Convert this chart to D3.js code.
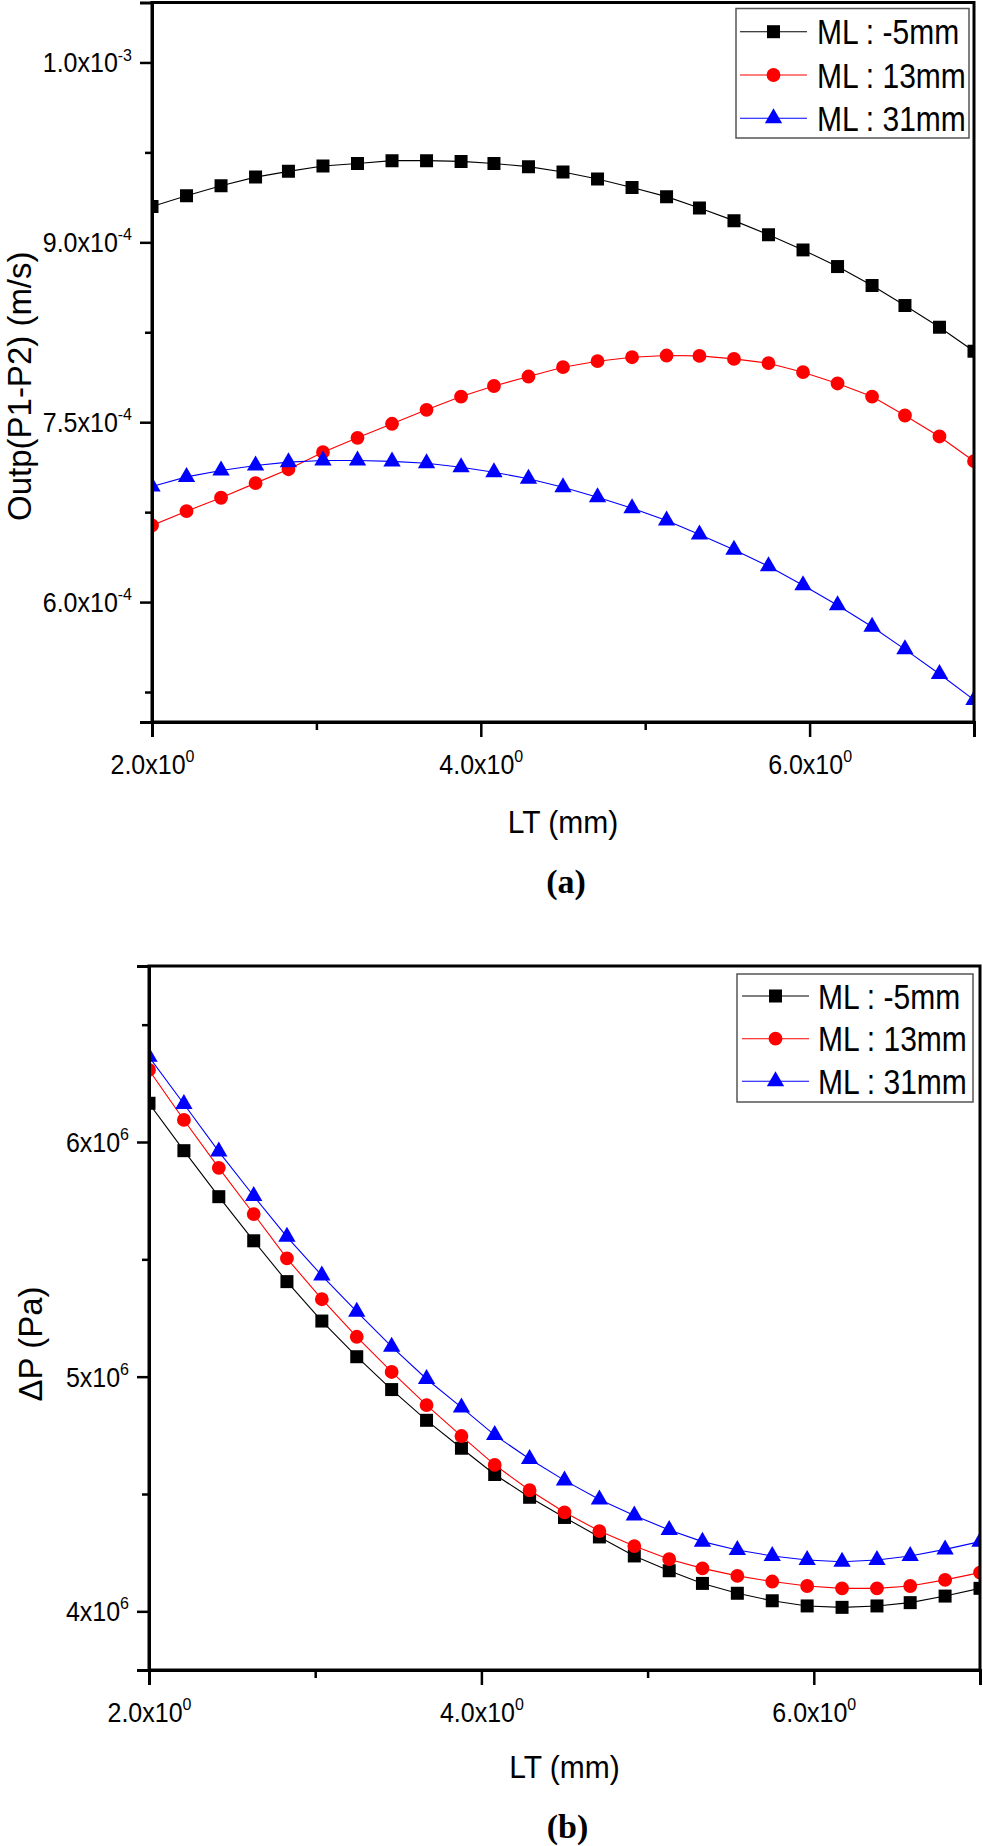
<!DOCTYPE html>
<html>
<head>
<meta charset="utf-8">
<script src="https://cdn.jsdelivr.net/npm/d3@7"></script>
<style>
  html, body { margin: 0; padding: 0; background: #fff; }
  svg { display: block; }
  text { font-family: "Liberation Sans", Arial, sans-serif; fill: #000; }
</style>
</head>
<body>
<svg id="chart" width="983" height="1846"></svg>
<script>
// ---------------- data ----------------
const seriesNames = ["ML : -5mm", "ML : 13mm", "ML : 31mm"];
const seriesColors = ["#000000", "#ff0000", "#0000ff"];
const seriesSymbols = ["square", "circle", "triangle"];

const LT = [2.00, 2.21, 2.42, 2.63, 2.83, 3.04, 3.25, 3.46, 3.67, 3.88, 4.08, 4.29, 4.50,
            4.71, 4.92, 5.13, 5.33, 5.54, 5.75, 5.96, 6.17, 6.38, 6.58, 6.79, 7.00];

// (a) Outp(P1-P2) (m/s)
const outpML_m5 = [9.298e-4, 9.389e-4, 9.472e-4, 9.544e-4, 9.592e-4, 9.637e-4, 9.658e-4, 9.681e-4, 9.681e-4,
                   9.675e-4, 9.658e-4, 9.631e-4, 9.587e-4, 9.528e-4, 9.458e-4, 9.381e-4, 9.287e-4, 9.181e-4,
                   9.064e-4, 8.937e-4, 8.798e-4, 8.640e-4, 8.473e-4, 8.292e-4, 8.092e-4];
const outpML_13 = [6.639e-4, 6.758e-4, 6.870e-4, 6.992e-4, 7.108e-4, 7.250e-4, 7.370e-4, 7.487e-4, 7.603e-4,
                   7.714e-4, 7.802e-4, 7.881e-4, 7.959e-4, 8.009e-4, 8.042e-4, 8.056e-4, 8.053e-4, 8.028e-4,
                   7.992e-4, 7.917e-4, 7.823e-4, 7.714e-4, 7.556e-4, 7.381e-4, 7.175e-4];
const outpML_31 = [6.964e-4, 7.044e-4, 7.097e-4, 7.139e-4, 7.167e-4, 7.181e-4, 7.181e-4, 7.173e-4, 7.158e-4,
                   7.125e-4, 7.083e-4, 7.028e-4, 6.958e-4, 6.875e-4, 6.783e-4, 6.681e-4, 6.564e-4, 6.437e-4,
                   6.298e-4, 6.140e-4, 5.973e-4, 5.794e-4, 5.606e-4, 5.400e-4, 5.184e-4];

// (b) ΔP (Pa)
const dpML_m5 = [6.165e6, 5.963e6, 5.767e6, 5.579e6, 5.405e6, 5.237e6, 5.085e6, 4.945e6, 4.814e6,
                 4.695e6, 4.583e6, 4.486e6, 4.400e6, 4.317e6, 4.236e6, 4.173e6, 4.119e6, 4.077e6,
                 4.045e6, 4.023e6, 4.017e6, 4.023e6, 4.037e6, 4.065e6, 4.098e6];
const dpML_13 = [6.307e6, 6.094e6, 5.890e6, 5.693e6, 5.504e6, 5.330e6, 5.170e6, 5.020e6, 4.879e6,
                 4.747e6, 4.624e6, 4.516e6, 4.422e6, 4.342e6, 4.278e6, 4.222e6, 4.183e6, 4.151e6,
                 4.127e6, 4.108e6, 4.098e6, 4.098e6, 4.108e6, 4.134e6, 4.165e6];
const dpML_31 = [6.363e6, 6.162e6, 5.959e6, 5.770e6, 5.596e6, 5.431e6, 5.277e6, 5.128e6, 4.990e6,
                 4.869e6, 4.751e6, 4.649e6, 4.558e6, 4.477e6, 4.408e6, 4.347e6, 4.297e6, 4.261e6,
                 4.236e6, 4.219e6, 4.211e6, 4.219e6, 4.236e6, 4.264e6, 4.297e6];

// ticks
const xMajorTicks = [2, 4, 6];
const xMajorLabels = [["2.0x10", "0"], ["4.0x10", "0"], ["6.0x10", "0"]];
const xMinorTicks = [3, 5, 7];

const yMajorTicksA = [6.0e-4, 7.5e-4, 9.0e-4, 1.05e-3];
const yMajorLabelsA = [["6.0x10", "-4"], ["7.5x10", "-4"], ["9.0x10", "-4"], ["1.0x10", "-3"]];
const yMinorTicksA = [5.25e-4, 6.75e-4, 8.25e-4, 9.75e-4];

const yMajorTicksB = [4e6, 5e6, 6e6];
const yMajorLabelsB = [["4x10", "6"], ["5x10", "6"], ["6x10", "6"]];
const yMinorTicksB = [4.5e6, 5.5e6, 6.5e6];

// ---------------- drawing ----------------
const svg = d3.select("#chart");

const symbolMap = { square: d3.symbolSquare, circle: d3.symbolCircle, triangle: d3.symbolTriangle };
const symbolSize = { square: 169, circle: 150, triangle: 130 };

function supLabel(sel, parts, supDy, supSize) {
  sel.append("tspan").text(parts[0]);
  sel.append("tspan").attr("dy", supDy).attr("font-size", supSize).text(parts[1]);
}

function drawPanel(cfg) {
  const { left, right, top, bottom, yDomain, series, yMajor, yMajorLabels, yMinor,
          yTitle, yTitleX, panelLabel, xTitleY, panelLabelY, legend, id } = cfg;

  const x = d3.scaleLinear().domain([2, 7]).range([left, right]);
  const y = d3.scaleLinear().domain(yDomain).range([bottom, top]);

  const g = svg.append("g");

  g.append("clipPath").attr("id", "clip" + id)
    .append("rect").attr("x", left).attr("y", top).attr("width", right - left).attr("height", bottom - top);

  const plot = g.append("g").attr("clip-path", `url(#clip${id})`);

  series.forEach((vals, si) => {
    const pts = LT.map((xv, i) => [xv, vals[i]]);
    plot.append("path")
      .attr("d", d3.line().x(d => x(d[0])).y(d => y(d[1]))(pts))
      .attr("fill", "none")
      .attr("stroke", seriesColors[si])
      .attr("stroke-width", 1.1);
    const sym = seriesSymbols[si];
    plot.selectAll(null).data(pts).enter().append("path")
      .attr("transform", d => `translate(${x(d[0])},${y(d[1])})`)
      .attr("d", d3.symbol(symbolMap[sym], symbolSize[sym])())
      .attr("fill", seriesColors[si]);
  });

  // frame
  g.append("rect")
    .attr("x", left).attr("y", top).attr("width", right - left).attr("height", bottom - top)
    .attr("fill", "none").attr("stroke", "#000").attr("stroke-width", 3);

  // x axis major
  const xAxis = g.append("g").attr("transform", `translate(0,${bottom})`)
    .call(d3.axisBottom(x).tickValues(xMajorTicks).tickSize(15).tickFormat(() => ""));
  xAxis.select(".domain").attr("stroke-width", 3);
  xAxis.selectAll(".tick line").attr("stroke-width", 2.5);
  xAxis.selectAll(".tick").append("text")
    .attr("transform", "translate(0,52) scale(1,1.08)")
    .attr("text-anchor", "middle").attr("font-size", 25)
    .each(function(d, i) { supLabel(d3.select(this), xMajorLabels[i], -11, 16); });

  // x axis minor
  const xAxisMin = g.append("g").attr("transform", `translate(0,${bottom})`)
    .call(d3.axisBottom(x).tickValues(xMinorTicks).tickSize(8).tickFormat(() => ""));
  xAxisMin.select(".domain").remove();
  xAxisMin.selectAll(".tick line").attr("stroke-width", 2.5);

  // y axis major
  const yAxis = g.append("g").attr("transform", `translate(${left},0)`)
    .call(d3.axisLeft(y).tickValues(yMajor).tickSize(12).tickFormat(() => ""));
  yAxis.select(".domain").attr("stroke-width", 3);
  yAxis.selectAll(".tick line").attr("stroke-width", 2.5);
  yAxis.selectAll(".tick").append("text")
    .attr("transform", "translate(-20,9.5) scale(1,1.08)")
    .attr("text-anchor", "end").attr("font-size", 25)
    .each(function(d, i) { supLabel(d3.select(this), yMajorLabels[i], -11, 16); });

  const yAxisMin = g.append("g").attr("transform", `translate(${left},0)`)
    .call(d3.axisLeft(y).tickValues(yMinor).tickSize(7).tickFormat(() => ""));
  yAxisMin.select(".domain").remove();
  yAxisMin.selectAll(".tick line").attr("stroke-width", 2.5);

  // titles
  g.append("text")
    .attr("transform", `translate(${(left + right) / 2},${xTitleY}) scale(1,1.05)`)
    .attr("text-anchor", "middle").attr("font-size", 30).text("LT (mm)");
  g.append("text")
    .attr("transform", `translate(${yTitleX},${(top + bottom) / 2 + cfg.yTitleShift}) rotate(-90)`)
    .attr("text-anchor", "middle").attr("font-size", cfg.yTitleSize).text(yTitle);
  g.append("text")
    .attr("x", (left + right) / 2 + 3).attr("y", panelLabelY)
    .attr("text-anchor", "middle").attr("font-size", 34).attr("font-weight", "bold")
    .style("font-family", '"Liberation Serif", "Times New Roman", serif')
    .text(panelLabel);

  // legend
  const L = legend;
  g.append("rect").attr("x", L.x0).attr("y", L.y0).attr("width", L.x1 - L.x0).attr("height", L.y1 - L.y0)
    .attr("fill", "#fff").attr("stroke", "#555").attr("stroke-width", 1.5);
  seriesNames.forEach((name, si) => {
    const ry = L.rows[si];
    g.append("line").attr("x1", L.lx0).attr("x2", L.lx1).attr("y1", ry).attr("y2", ry)
      .attr("stroke", seriesColors[si]).attr("stroke-width", 1.1);
    const sym = seriesSymbols[si];
    g.append("path").attr("transform", `translate(${(L.lx0 + L.lx1) / 2},${ry})`)
      .attr("d", d3.symbol(symbolMap[sym], symbolSize[sym])()).attr("fill", seriesColors[si]);
    g.append("text").attr("transform", `translate(${L.tx},${ry + 12.5}) scale(1,1.17)`)
      .attr("font-size", 30).text(name);
  });
}

drawPanel({
  id: "a", left: 152, right: 974, top: 2.5, bottom: 722,
  yDomain: [5e-4, 1.1e-3],
  series: [outpML_m5, outpML_13, outpML_31],
  yMajor: yMajorTicksA, yMajorLabels: yMajorLabelsA, yMinor: yMinorTicksA,
  yTitle: "Outp(P1-P2) (m/s)", yTitleX: 31, yTitleShift: 24, yTitleSize: 33,
  panelLabel: "(a)", xTitleY: 833, panelLabelY: 893,
  legend: { x0: 736, x1: 969, y0: 8.5, y1: 138, rows: [31.7, 75, 118.3], lx0: 740, lx1: 807, tx: 817 }
});

drawPanel({
  id: "b", left: 149, right: 980, top: 966, bottom: 1670,
  yDomain: [3.75e6, 6.75e6],
  series: [dpML_m5, dpML_13, dpML_31],
  yMajor: yMajorTicksB, yMajorLabels: yMajorLabelsB, yMinor: yMinorTicksB,
  yTitle: "ΔP (Pa)", yTitleX: 42, yTitleShift: 26, yTitleSize: 33,
  panelLabel: "(b)", xTitleY: 1778, panelLabelY: 1838,
  legend: { x0: 737, x1: 973, y0: 974, y1: 1102, rows: [996, 1038.7, 1081.3], lx0: 742, lx1: 809, tx: 818 }
});
</script>
</body>
</html>
